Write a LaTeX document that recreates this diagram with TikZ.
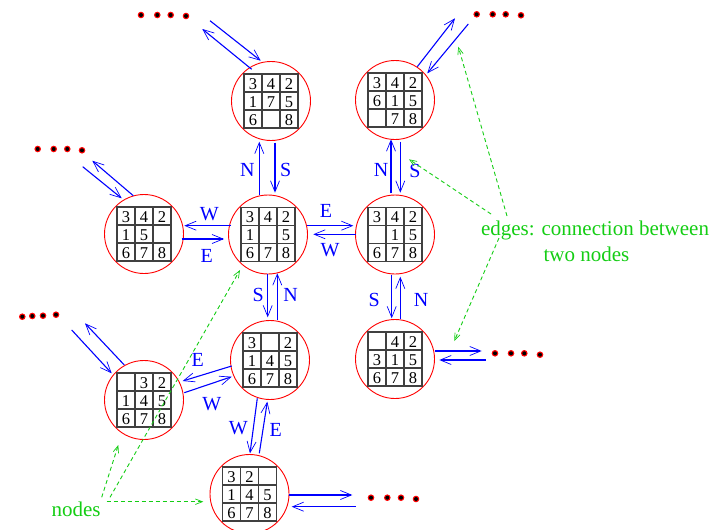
\documentclass[tikz,border=0pt]{standalone}
\usepackage{fontspec}
\setmainfont{Liberation Serif}
\usetikzlibrary{arrows.meta,calc}
\definecolor{ggreen}{RGB}{20,205,20}
\tikzset{
  state/.style={circle, draw=red, line width=0.9pt, minimum size=79pt, inner sep=0pt},
  move/.style={draw=blue, line width=1.1pt, -{Straight Barb[length=11pt,width=9pt,line width=0.7pt]}},
  movelbl/.style={text=blue, font=\fontsize{20}{20}\selectfont, inner sep=0pt},
  tile/.style={font=\fontsize{16.5}{16.5}\selectfont, inner sep=0pt},
  gridline/.style={draw=black!75, line width=1.1pt},
  note/.style={draw=ggreen, line width=0.9pt, dash pattern=on 4pt off 3pt, -{Straight Barb[length=7pt,width=5.5pt,line width=0.7pt]}},
  notelbl/.style={text=ggreen, font=\fontsize{21}{21}\selectfont, inner sep=0pt, anchor=base},
}
\newcommand\board[2]{%
  \begin{scope}[shift={(#1.center)}]
    \draw[gridline] (-27,-27) rectangle (27,27);
    \draw[gridline] (-9,-27) -- (-9,27) (9,-27) -- (9,27) (-27,-9) -- (27,-9) (-27,9) -- (27,9);
    \foreach \v [count=\k from 0] in {#2} {
      \pgfmathtruncatemacro\bcol{mod(\k,3)}
      \pgfmathtruncatemacro\brow{(\k-\bcol)/3}
      \node[tile] (#1-\k) at (-18+18*\bcol, -17+18*\brow) {\v};
    }
  \end{scope}%
}
\newcommand\dotrow[1]{%
  \foreach \px/\py in {#1} {
    \fill[red] (\px,\py) circle[radius=3.3pt];
    \fill[black] (\px,\py) circle[radius=2pt];
  }%
}
\begin{document}
\begin{tikzpicture}[x=1pt,y=-1pt]
\useasboundingbox (0,0) rectangle (723,530);

% states
\node[state] (tc) at (271,101) {};
\node[state] (tr) at (395,100) {};
\node[state] (lm) at (144,234) {};
\node[state] (c)  at (268,234.5) {};
\node[state] (rm) at (395,234.5) {};
\node[state] (lr) at (395,359) {};
\node[state] (ll) at (144,400) {};
\node[state] (lc) at (270,360) {};
\node[state] (b)  at (249.5,494) {};

\board{tc}{3,4,2,1,7,5,6,{},8}
\board{tr}{3,4,2,6,1,5,{},7,8}
\board{lm}{3,4,2,1,5,{},6,7,8}
\board{c}{3,4,2,1,{},5,6,7,8}
\board{rm}{3,4,2,{},1,5,6,7,8}
\board{lr}{{},4,2,3,1,5,6,7,8}
\board{ll}{{},3,2,1,4,5,6,7,8}
\board{lc}{3,{},2,1,4,5,6,7,8}
\board{b}{3,2,{},1,4,5,6,7,8}

% dots
\dotrow{141/15,157.3/15,170.7/15,186/16}
\dotrow{476.7/14.3,492.7/14.3,505.7/14.3,521/15.3}
\dotrow{37.7/149,53.7/149,67.3/149,82/150.3}
\dotrow{22.3/316.7,32.3/316,43/315.7,56/314.7}
\dotrow{495/353.3,511/353.3,524.3/353.3,540/354.7}
\dotrow{371/497.7,387.3/497.7,401/497.7,416/499}

% moves to unexplored states
\draw[move] ($(tc)+(-61,-80.3)$) -- ($(tc)+(-10.3,-40.3)$);
\draw[move] ($(tc)+(-19.3,-31.7)$) -- ($(tc)+(-68.7,-72)$);
\draw[move] ($(tr)+(22.3,-33.3)$) -- ($(tr)+(60,-81.7)$);
\draw[move] ($(tr)+(73.3,-76)$) -- ($(tr)+(32.3,-26.7)$);
\draw[move] ($(lm)+(-61.3,-67.3)$) -- ($(lm)+(-22.3,-35.7)$);
\draw[move] ($(lm)+(-10.7,-38.3)$) -- ($(lm)+(-51.7,-73.3)$);
\draw[move] ($(lr)+(40,-8)$) -- ($(lr)+(86.7,-8)$);
\draw[move] ($(lr)+(90.7,1)$) -- ($(lr)+(44.3,1)$);
\draw[move] ($(ll)+(-72.3,-70)$) -- ($(ll)+(-32.3,-26.7)$);
\draw[move] ($(ll)+(-19.7,-35)$) -- ($(ll)+(-59,-76.7)$);
\draw[move] ($(b)+(39.2,1)$) -- ($(b)+(102.8,1)$);
\draw[move] ($(b)+(106.2,12.7)$) -- ($(b)+(42.2,12.7)$);

% moves between states
\draw[move] ($(c)+(-37,-8.8)$) -- ($(lm)+(40.3,-8.3)$);
\draw[move] ($(lm)+(37.7,5)$) -- ($(c)+(-44,4.5)$);
\draw[move] ($(c)+(-8.7,-39.5)$) -- ($(tc)+(-11.7,40.7)$);
\draw[move] ($(tc)+(4,41.7)$) -- ($(c)+(7,-41.8)$);
\draw[move] ($(c)+(39.3,-8.8)$) -- ($(rm)+(-41.7,-8.8)$);
\draw[move] ($(rm)+(-39,-0.2)$) -- ($(c)+(45.3,-0.2)$);
\draw[move] ($(rm)+(-4,-41.2)$) -- ($(tr)+(-4,39.3)$);
\draw[move] ($(tr)+(5.3,41.7)$) -- ($(rm)+(5.3,-41.8)$);
\draw[move] ($(rm)+(-3.3,40.5)$) -- ($(lr)+(-3.3,-40.7)$);
\draw[move] ($(lr)+(5.3,-39.7)$) -- ($(rm)+(5.3,42.2)$);
\draw[move] ($(c)+(-0.3,39.5)$) -- ($(lc)+(-2.3,-42.7)$);
\draw[move] ($(lc)+(7.3,-40)$) -- ($(c)+(9.3,38.8)$);
\draw[move] ($(lc)+(-38.3,6)$) -- ($(ll)+(38.7,-19)$);
\draw[move] ($(ll)+(40.3,-7.3)$) -- ($(lc)+(-38.3,16.7)$);
\draw[move] ($(lc)+(-12.7,38.3)$) -- ($(b)+(0.5,-40.7)$);
\draw[move] ($(b)+(9.8,-40.7)$) -- ($(lc)+(-2.7,41.7)$);

% move labels
\node[movelbl] (lw1) at (209.3,214) {W};
\node[movelbl] (le1) at (206.7,256) {E};
\node[movelbl] (ln1) at (247.3,170) {N};
\node[movelbl] (ls1) at (285.7,170) {S};
\node[movelbl] (le2) at (326,210.7) {E};
\node[movelbl] (lw2) at (330,250) {W};
\node[movelbl] (ln2) at (381,170) {N};
\node[movelbl] (ls2) at (415,170.7) {S};
\node[movelbl] (ls3) at (374.3,300) {S};
\node[movelbl] (ln3) at (421,300) {N};
\node[movelbl] (ls4) at (258.3,295) {S};
\node[movelbl] (ln4) at (290.7,295) {N};
\node[movelbl] (le3) at (197.7,360) {E};
\node[movelbl] (lw3) at (211.7,404) {W};
\node[movelbl] (lw4) at (238.3,428.3) {W};
\node[movelbl] (le4) at (275.7,430) {E};

% annotations
\node[notelbl] (nodes) at (76,516) {nodes};
\node[notelbl] (edges1) at (595,235) {edges: connection between};
\node[notelbl] (edges2) at (586.5,261.7) {two nodes};
\coordinate (n1) at (101.7,497.3);
\coordinate (n2) at (110,497.3);
\coordinate (n3) at (106.7,501.7);
\coordinate (e1) at (491,214);
\coordinate (e2) at (507,216);
\coordinate (e3) at (499,238);
\draw[note] (n1) -- ($(ll)+(-25.7,45)$);
\draw[note] (n2) -- ($(c)+(-28,35.5)$);
\draw[note] (n3) -- ($(b)+(-46.2,7.7)$);
\draw[note] (e1) -- ($(rm)+(14,-75.2)$);
\draw[note] (e2) -- ($(tr)+(63.3,-53.3)$);
\draw[note] (e3) -- ($(lr)+(59.3,-18)$);
\end{tikzpicture}
\end{document}
